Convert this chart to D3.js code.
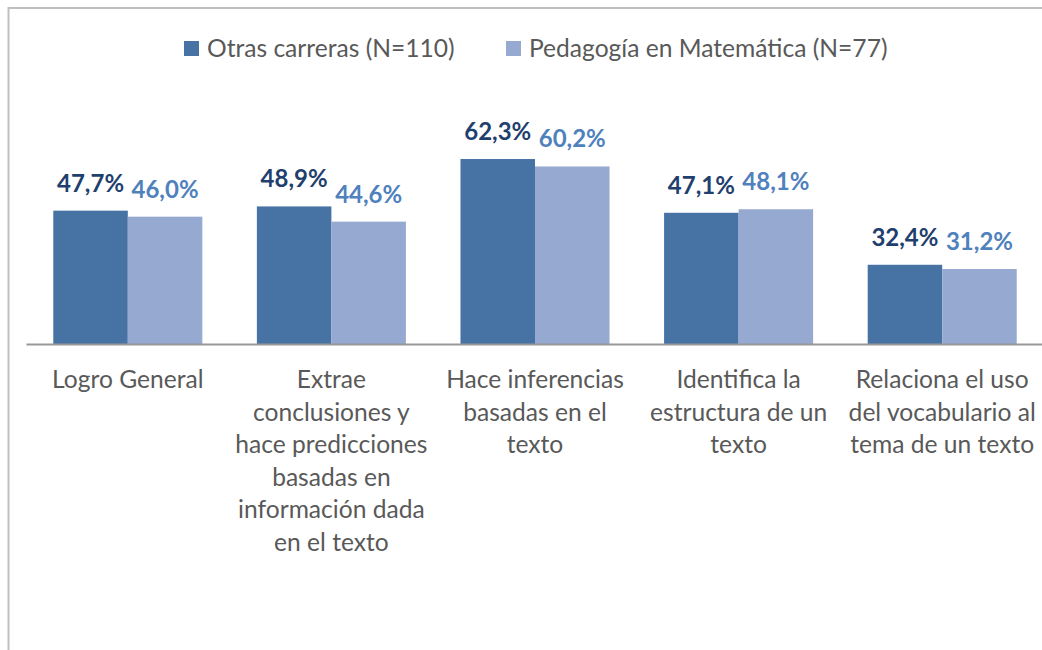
<!DOCTYPE html>
<html>
<head>
<meta charset="utf-8">
<script src="https://cdn.jsdelivr.net/npm/d3@7"></script>
<style>
  html, body { margin: 0; padding: 0; background: #fff; }
  svg { display: block; }
</style>
</head>
<body>
<svg id="chart" width="1042" height="650"></svg>
<script>
// Category labels (line breaks as they are laid out under each group)
const categories = [
  "Logro General",
  "Extrae\nconclusiones y\nhace predicciones\nbasadas en\ninformación dada\nen el texto",
  "Hace inferencias\nbasadas en el\ntexto",
  "Identifica la\nestructura de un\ntexto",
  "Relaciona el uso\ndel vocabulario al\ntema de un texto"
];
const seriesNames = ["Otras carreras (N=110)", "Pedagogía en Matemática (N=77)"];
const otrasCarreras = [47.7, 48.9, 62.3, 47.1, 32.4];
const pedagogiaMatematica = [46.0, 44.6, 60.2, 48.1, 31.2];
const valueDomain = [10, 70];

const barColors = ["#4672A4", "#95A9D1"];
const labelColors = ["#1F3F6E", "#4F81BD"];
const textGray = "#595959";
const FONT = "Lato, 'Open Sans', sans-serif";

const seriesValues = [otrasCarreras, pedagogiaMatematica];
const rows = categories.map((c, i) => ({
  cat: c,
  vals: seriesNames.map((s, j) => ({ series: s, idx: j, value: seriesValues[j][i] }))
}));

const svg = d3.select("#chart");

// chart frame (top and left edges)
svg.append("line").attr("x1", 8.5).attr("x2", 1042).attr("y1", 8).attr("y2", 8)
  .attr("stroke", "#BFBFBF").attr("stroke-width", 2);
svg.append("line").attr("x1", 8.5).attr("x2", 8.5).attr("y1", 7).attr("y2", 650)
  .attr("stroke", "#BFBFBF").attr("stroke-width", 2);

const x = d3.scaleBand()
  .domain(categories)
  .range([26, 1044])
  .paddingInner(0.268)
  .paddingOuter(0.134);

const xs = d3.scaleBand()
  .domain(seriesNames)
  .range([0, x.bandwidth()]);

const y = d3.scaleLinear()
  .domain(valueDomain)
  .range([344, 131.8]);

// bars
const groups = svg.append("g").selectAll("g")
  .data(rows)
  .join("g")
  .attr("transform", d => `translate(${x(d.cat)},0)`);

groups.selectAll("rect")
  .data(d => d.vals)
  .join("rect")
  .attr("x", d => xs(d.series))
  .attr("width", xs.bandwidth())
  .attr("y", d => y(d.value))
  .attr("height", d => y(valueDomain[0]) - y(d.value))
  .attr("fill", d => barColors[d.idx]);

// value labels
groups.selectAll("text.val")
  .data(d => d.vals)
  .join("text")
  .attr("class", "val")
  .attr("x", d => xs(d.series) + xs.bandwidth() / 2)
  .attr("y", d => y(d.value) - 19)
  .attr("text-anchor", "middle")
  .attr("font-family", FONT)
  .attr("font-weight", "bold")
  .attr("font-size", 24)
  .attr("fill", d => labelColors[d.idx])
  .text(d => d.value.toFixed(1).replace(".", ",") + "%");

// category axis
const xAxis = d3.axisBottom(x).tickSize(0).tickPadding(0).tickFormat("");
const axisG = svg.append("g").attr("transform", `translate(0,${y(valueDomain[0])})`).call(xAxis);
axisG.select(".domain").attr("stroke", "#989898").attr("stroke-width", 2);

const catLabels = svg.append("g").selectAll("text")
  .data(categories)
  .join("text")
  .attr("x", d => x(d) + x.bandwidth() / 2)
  .attr("y", 388)
  .attr("text-anchor", "middle")
  .attr("font-family", FONT)
  .attr("font-size", 24.6)
  .attr("fill", textGray);

catLabels.selectAll("tspan")
  .data(d => d.split("\n"))
  .join("tspan")
  .attr("x", function () { return d3.select(this.parentNode).attr("x"); })
  .attr("dy", (d, i) => i === 0 ? 0 : 32.5)
  .text(d => d);

// legend
const legendX = [184, 506];
const legend = svg.append("g").selectAll("g")
  .data(seriesNames)
  .join("g")
  .attr("transform", (d, i) => `translate(${legendX[i]},41)`);
legend.append("rect")
  .attr("width", 15).attr("height", 15)
  .attr("fill", (d, i) => barColors[i]);
legend.append("text")
  .attr("x", 23).attr("y", 16)
  .attr("font-family", FONT)
  .attr("font-size", 24.6)
  .attr("fill", textGray)
  .text(d => d);
</script>
</body>
</html>
